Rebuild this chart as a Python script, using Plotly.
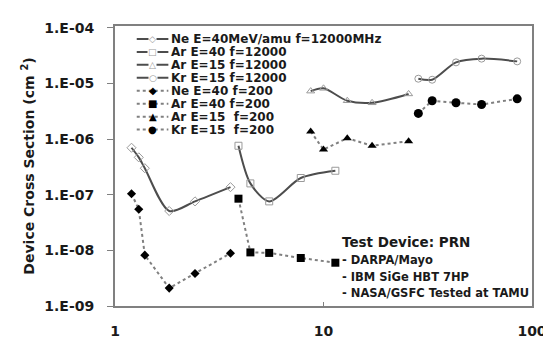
import plotly.graph_objects as go

# Data (x: energy-like axis, y: device cross section cm^2)
ne40_x = [1.20, 1.30, 1.39, 1.82, 2.42, 3.58]
ne40_hi_y = [7.0e-7, 4.7e-7, 3.0e-7, 5.1e-8, 7.6e-8, 1.37e-7]
ne40_lo_y = [1.04e-7, 5.5e-8, 8.2e-9, 2.1e-9, 3.85e-9, 8.9e-9]

ar40_x = [3.91, 4.46, 5.49, 7.78, 11.4]
ar40_hi_y = [7.6e-7, 1.6e-7, 7.6e-8, 2.0e-7, 2.7e-7]
ar40_lo_y = [8.5e-8, 9.2e-9, 9.0e-9, 7.3e-9, 6.0e-9]

ar15_x = [8.68, 10.0, 13.0, 17.1, 25.6]
ar15_hi_y = [7.3e-6, 8.2e-6, 4.9e-6, 4.5e-6, 6.5e-6]
ar15_lo_y = [1.37e-6, 6.5e-7, 1.04e-6, 7.6e-7, 9.2e-7]

kr15_x = [28.5, 33.2, 43.2, 57.3, 84.9]
kr15_hi_y = [1.22e-5, 1.17e-5, 2.4e-5, 2.8e-5, 2.5e-5]
kr15_lo_y = [2.9e-6, 4.9e-6, 4.5e-6, 4.2e-6, 5.3e-6]

names = ["Ne E=40MeV/amu f=12000MHz", "Ar E=40 f=12000", "Ar E=15 f=12000", "Kr E=15 f=12000",
         "Ne E=40 f=200", "Ar E=40 f=200", "Ar E=15  f=200", "Kr E=15  f=200"]

ytick_vals = [1e-4, 1e-5, 1e-6, 1e-7, 1e-8, 1e-9]
ytick_text = ["1.E-04", "1.E-05", "1.E-06", "1.E-07", "1.E-08", "1.E-09"]
xtick_vals = [1, 10, 100]
xtick_text = ["1", "10", "100"]

note_title = "Test Device: PRN"
note_lines = ["- DARPA/Mayo", "- IBM SiGe HBT 7HP", "- NASA/GSFC Tested at TAMU"]

FONT = "DejaVu Sans, Verdana, sans-serif"
TXT = "#1a1a1a"
HI_LINE = "#4d4d4d"
HI_MARK = "#9a9a9a"
LO_LINE = "#808080"

fig = go.Figure()

hi_sets = [(ne40_x, ne40_hi_y, "diamond-open", "\u25C7"), (ar40_x, ar40_hi_y, "square-open", "\u25A1"),
           (ar15_x, ar15_hi_y, "triangle-up-open", "\u25B3"), (kr15_x, kr15_hi_y, "circle-open", "\u25CB")]
lo_sets = [(ne40_x, ne40_lo_y, "diamond", 7, "\u25C6"), (ar40_x, ar40_lo_y, "square", 8, "\u25A0"),
           (ar15_x, ar15_lo_y, "triangle-up", 8, "\u25B2"), (kr15_x, kr15_lo_y, "circle", 9, "\u25CF")]

for (x, y, sym, _g), nm in zip(hi_sets, names[:4]):
    fig.add_trace(go.Scatter(
        x=x, y=y, name=nm, mode="lines+markers", showlegend=False,
        line=dict(color=HI_LINE, width=2, shape="spline", smoothing=0.8),
        marker=dict(symbol=sym, size=7, color=HI_MARK, line=dict(width=1, color=HI_MARK)),
    ))

for (x, y, sym, sz, _g), nm in zip(lo_sets, names[4:]):
    fig.add_trace(go.Scatter(
        x=x, y=y, name=nm, mode="lines+markers", showlegend=False,
        line=dict(color=LO_LINE, width=2, dash="dot"),
        marker=dict(symbol=sym, size=sz, color="black"),
    ))

# ---- manual legend (compact rows like the reference) ----
PL, PR, PT, PB = 107, 529, 15, 306
def px2paper(px, py):
    return (px - PL) / (PR - PL), (PB - py) / (PB - PT)

glyphs = [g for (_, _, _, g) in hi_sets] + [g for (_, _, _, _, g) in lo_sets]
for i, nm in enumerate(names):
    row_y = 28.5 + 13.45 * i
    solid = i < 4
    x0, yy = px2paper(129, row_y)
    x1, _ = px2paper(161, row_y)
    xm, _ = px2paper(145, row_y)
    xt, _ = px2paper(162, row_y)
    fig.add_shape(type="line", xref="paper", yref="paper", x0=x0, x1=x1, y0=yy, y1=yy,
                  line=dict(color=HI_LINE if solid else LO_LINE, width=2,
                            dash="solid" if solid else "dot"))
    ann = dict(x=xm, y=yy, xref="paper", yref="paper", xanchor="center", yanchor="middle",
               text=glyphs[i], showarrow=False, borderpad=0,
               font=dict(family="DejaVu Sans", size=9 if solid else 10,
                         color=HI_MARK if solid else "black"))
    if solid:
        ann["bgcolor"] = "white"
    fig.add_annotation(**ann)
    fig.add_annotation(x=xt, y=yy, xref="paper", yref="paper", xanchor="left", yanchor="middle",
                       text=nm, showarrow=False,
                       font=dict(family=FONT, size=12, color=TXT, weight="bold"))

# ---- note text ----
nx, ny = px2paper(335, 240)
fig.add_annotation(x=nx, y=ny, xref="paper", yref="paper", xanchor="left", yanchor="middle",
                   text=note_title, showarrow=False,
                   font=dict(family=FONT, size=13.5, color=TXT, weight="bold"))
for i, t in enumerate(note_lines):
    lx, ly = px2paper(335, 258 + 17.5 * i)
    fig.add_annotation(x=lx, y=ly, xref="paper", yref="paper",
                       xanchor="left", yanchor="middle", text=t, showarrow=False,
                       font=dict(family=FONT, size=11.5, color=TXT, weight="bold"))

fig.update_layout(
    width=551, height=343,
    margin=dict(l=PL, r=551 - PR, t=PT, b=343 - PB),
    paper_bgcolor="white", plot_bgcolor="white",
    font=dict(family=FONT, color=TXT, weight="bold"),
    showlegend=False,
    xaxis=dict(type="log", range=[0, 2], tickvals=xtick_vals, ticktext=xtick_text,
               showgrid=False, zeroline=False, showline=True, mirror=True,
               linecolor="#808080", linewidth=2, ticks="inside", ticklen=4, tickcolor="#808080",
               ticklabelstandoff=11,
               tickfont=dict(family=FONT, size=14, weight="bold", color=TXT)),
    yaxis=dict(type="log", range=[-9.0, -3.966], tickvals=ytick_vals, ticktext=ytick_text,
               showgrid=False, zeroline=False, showline=True, mirror=True,
               linecolor="#808080", linewidth=2, ticks="outside", ticklen=6, tickcolor="#808080",
               ticklabelstandoff=10,
               tickfont=dict(family=FONT, size=14, weight="bold", color=TXT),
               title=dict(text="Device Cross Section (cm <sup>2</sup>)",
                          font=dict(family=FONT, size=14, weight="bold", color=TXT),
                          standoff=6)),
)

fig.write_html("out.html")
